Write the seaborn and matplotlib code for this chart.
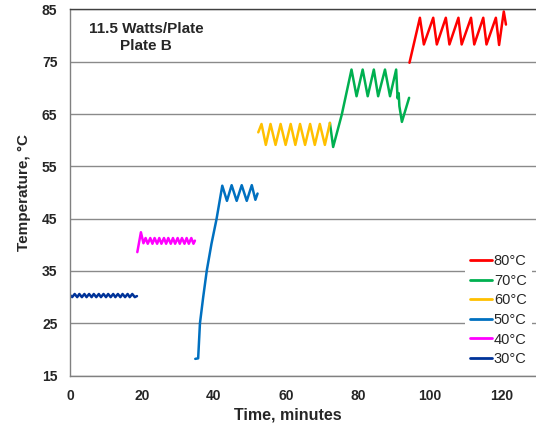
import matplotlib
matplotlib.use("Agg")
import matplotlib.pyplot as plt
import seaborn as sns
import pandas as pd

# ---- data ----
t30 = [0.0, 0.6, 1.3, 2.0, 2.6, 3.3, 4.0, 4.6, 5.3, 6.0, 6.6, 7.3, 8.0, 8.6, 9.3,
       10.0, 10.6, 11.3, 12.0, 12.6, 13.3, 14.0, 14.6, 15.3, 16.0, 16.6, 17.3, 18.0, 18.6]
T30 = [30.4, 30.0, 30.6, 30.0, 30.6, 30.0, 30.6, 30.0, 30.6, 30.0, 30.6, 30.0, 30.6, 30.0, 30.6,
       30.0, 30.6, 30.0, 30.6, 30.0, 30.6, 30.0, 30.6, 30.0, 30.6, 30.0, 30.6, 30.0, 30.2]

t40 = [18.7, 19.7, 20.4, 21.0, 21.6, 22.3, 22.9, 23.5, 24.2, 24.8, 25.4, 26.1, 26.7,
       27.3, 28.0, 28.6, 29.2, 29.9, 30.5, 31.1, 31.8, 32.4, 33.0, 33.7, 34.3, 34.7]
T40 = [38.6, 42.4, 40.3, 41.3, 40.2, 41.3, 40.2, 41.3, 40.2, 41.3, 40.2, 41.3, 40.2,
       41.3, 40.2, 41.3, 40.2, 41.3, 40.2, 41.3, 40.2, 41.3, 40.2, 41.3, 40.2, 40.8]

t50 = [34.8, 35.6, 36.1, 37.0, 38.0, 39.3, 40.7, 42.3, 43.6, 44.9, 46.3, 47.7, 49.1,
       50.5, 51.5, 52.1]
T50 = [18.2, 18.3, 25.0, 30.0, 35.1, 40.2, 44.9, 51.3, 48.4, 51.4, 48.4, 51.4, 48.4,
       51.4, 48.6, 49.8]

t60 = [52.3, 53.2, 54.4, 55.7, 57.1, 58.5, 59.9, 61.3, 62.6, 63.9, 65.3, 66.7, 68.0,
       69.4, 70.8, 72.2]
T60 = [61.5, 63.1, 59.1, 63.1, 59.1, 63.1, 59.1, 63.1, 59.1, 63.1, 59.1, 63.1, 59.1,
       63.1, 59.1, 63.3]

t70 = [72.2, 73.1, 75.5, 78.2, 79.6, 81.3, 82.7, 84.4, 85.6, 87.5, 88.9, 90.6,
       91.0, 91.3, 91.5, 92.2, 94.2]
T70 = [63.3, 58.7, 64.9, 73.5, 68.4, 73.5, 68.4, 73.5, 68.4, 73.5, 68.4, 73.5,
       68.0, 69.0, 66.5, 63.5, 68.1]

t80 = [94.3, 97.2, 98.3, 100.9, 101.9, 104.4, 105.4, 107.9, 108.8, 111.4, 112.3,
       114.8, 115.7, 118.3, 119.2, 120.5, 121.1]
T80 = [74.8, 83.4, 78.3, 83.4, 78.3, 83.4, 78.3, 83.4, 78.3, 83.4, 78.3,
       83.4, 78.3, 83.4, 78.2, 84.6, 82.1]

labels = ["80°C", "70°C", "60°C", "50°C", "40°C", "30°C"]
colors = ["#FF0000", "#00B050", "#FFC000", "#0070C0", "#FF00FF", "#003399"]

x_ticks = [0, 20, 40, 60, 80, 100, 120]
y_ticks = [15, 25, 35, 45, 55, 65, 75, 85]

series = {
    "30°C": (t30, T30), "40°C": (t40, T40), "50°C": (t50, T50),
    "60°C": (t60, T60), "70°C": (t70, T70), "80°C": (t80, T80),
}
df = pd.concat(
    [pd.DataFrame({"Time": t, "Temp": T, "Series": k}) for k, (t, T) in series.items()],
    ignore_index=True,
)

sns.set_style("white")
plt.rcParams["font.family"] = ["Liberation Sans", "DejaVu Sans"]

W, H = 536, 429
fig = plt.figure(figsize=(W / 100, H / 100), dpi=100)
ax = fig.add_axes([70 / W, 1 - 375.6 / H, (W - 70) / W, (375.6 - 9.4) / H])

sns.lineplot(data=df, x="Time", y="Temp", hue="Series", hue_order=labels,
             palette=dict(zip(labels, colors)), sort=False, estimator=None,
             linewidth=1.8, ax=ax)
for ln in ax.get_lines():
    ln.set_solid_joinstyle("round")
    ln.set_solid_capstyle("round")

ax.set_xlim(0, 129.45)
ax.set_ylim(15, 85)
ax.set_xticks(x_ticks)
ax.set_yticks(y_ticks)
ax.set_xticklabels([str(v) for v in x_ticks], fontsize=10, fontweight="bold")
ax.set_yticklabels([str(v) for v in y_ticks], fontsize=10, fontweight="bold")
ax.tick_params(axis="x", direction="out", length=4, width=1, color="#808080", pad=6)
ax.tick_params(axis="y", length=0, pad=9)

ax.yaxis.grid(True, color="#8a8a8a", linewidth=1)
ax.xaxis.grid(False)
ax.set_axisbelow(True)
for side in ["left", "bottom", "top"]:
    ax.spines[side].set_visible(True)
    ax.spines[side].set_color("#808080")
    ax.spines[side].set_linewidth(1)
ax.spines["top"].set_color("#404040")
ax.spines["right"].set_visible(False)

ax.set_xlabel("Time, minutes", fontsize=11.5, fontweight="bold")
ax.xaxis.set_label_coords((288 - 70) / (W - 70), -31.5 / (375.6 - 9.4))
ax.set_ylabel("Temperature, °C", fontsize=11, fontweight="bold", labelpad=8)

ax.text(21.2, 79.7, "11.5 Watts/Plate\nPlate B", ha="center", va="center",
        multialignment="center", fontsize=11, fontweight="bold", linespacing=1.25)

handles, labs = ax.get_legend_handles_labels()
leg = ax.legend(handles, labs, loc="lower right", bbox_to_anchor=(1.0, 0.0),
                fontsize=10.5, frameon=True, facecolor="white", edgecolor="white",
                framealpha=1, fancybox=False, handlelength=1.5, handletextpad=0.1,
                labelspacing=0.38, borderaxespad=0.25, borderpad=0.4)
leg.get_frame().set_linewidth(0)
for ln in leg.get_lines():
    ln.set_linewidth(2)

fig.savefig("out.png", dpi=100)
